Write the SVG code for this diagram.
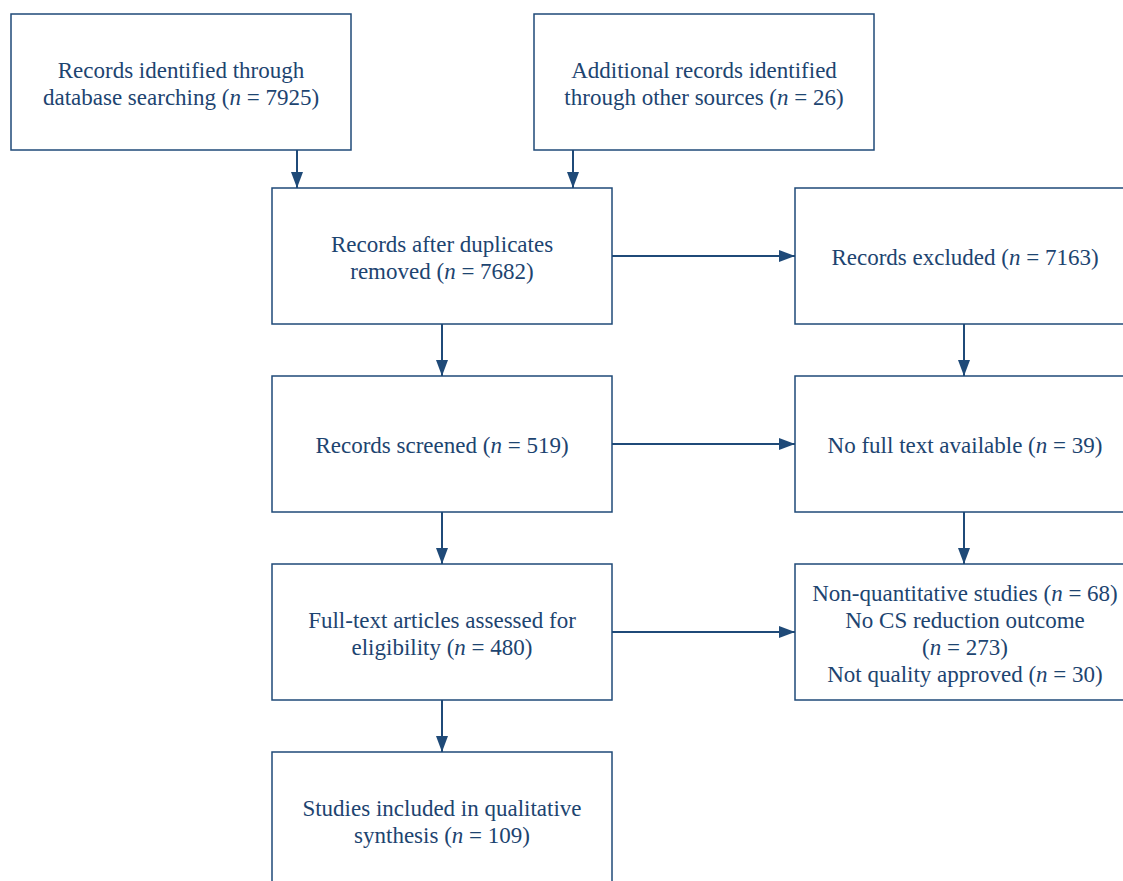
<svg xmlns="http://www.w3.org/2000/svg" width="1123" height="881" viewBox="0 0 1123 881">
<style>
.box{fill:#fff;stroke:#1f4a78;stroke-width:1.5}
text{font-family:"Liberation Serif",serif;font-size:23px;fill:#1d4470;text-anchor:middle}
.c{stroke:#1f4a78;stroke-width:2;fill:none}
</style>
<defs>
<marker id="ah" markerWidth="16" markerHeight="12" refX="16" refY="6" orient="auto" markerUnits="userSpaceOnUse" viewBox="0 0 16 12">
<path d="M0,0 L16,6 L0,12 z" fill="#1f4a78"/>
</marker>
</defs>
<rect width="1123" height="881" fill="#fff"/>
<g id="connectors">
<line class="c" x1="297" y1="150" x2="297" y2="188" marker-end="url(#ah)"/>
<line class="c" x1="573" y1="150" x2="573" y2="188" marker-end="url(#ah)"/>
<line class="c" x1="442" y1="324" x2="442" y2="376" marker-end="url(#ah)"/>
<line class="c" x1="442" y1="512" x2="442" y2="564" marker-end="url(#ah)"/>
<line class="c" x1="442" y1="700" x2="442" y2="752" marker-end="url(#ah)"/>
<line class="c" x1="964" y1="324" x2="964" y2="376" marker-end="url(#ah)"/>
<line class="c" x1="964" y1="512" x2="964" y2="564" marker-end="url(#ah)"/>
<line class="c" x1="612" y1="256" x2="795" y2="256" marker-end="url(#ah)"/>
<line class="c" x1="612" y1="444" x2="795" y2="444" marker-end="url(#ah)"/>
<line class="c" x1="612" y1="632" x2="795" y2="632" marker-end="url(#ah)"/>
</g>
<g id="n1">
<rect class="box" x="11" y="14" width="340" height="136"/>
<text x="181" y="78">Records identified through</text>
<text x="181" y="105">database searching (<tspan font-style="italic">n</tspan> = 7925)</text>
</g>
<g id="n2">
<rect class="box" x="534" y="14" width="340" height="136"/>
<text x="704" y="78">Additional records identified</text>
<text x="704" y="105">through other sources (<tspan font-style="italic">n</tspan> = 26)</text>
</g>
<g id="n3">
<rect class="box" x="272" y="188" width="340" height="136"/>
<text x="442" y="252">Records after duplicates</text>
<text x="442" y="279">removed (<tspan font-style="italic">n</tspan> = 7682)</text>
</g>
<g id="n4">
<rect class="box" x="795" y="188" width="340" height="136"/>
<text x="965" y="265">Records excluded (<tspan font-style="italic">n</tspan> = 7163)</text>
</g>
<g id="n5">
<rect class="box" x="272" y="376" width="340" height="136"/>
<text x="442" y="453">Records screened (<tspan font-style="italic">n</tspan> = 519)</text>
</g>
<g id="n6">
<rect class="box" x="795" y="376" width="340" height="136"/>
<text x="965" y="453">No full text available (<tspan font-style="italic">n</tspan> = 39)</text>
</g>
<g id="n7">
<rect class="box" x="272" y="564" width="340" height="136"/>
<text x="442" y="628">Full-text articles assessed for</text>
<text x="442" y="655">eligibility (<tspan font-style="italic">n</tspan> = 480)</text>
</g>
<g id="n8">
<rect class="box" x="795" y="564" width="340" height="136"/>
<text x="965" y="601">Non-quantitative studies (<tspan font-style="italic">n</tspan> = 68)</text>
<text x="965" y="628">No CS reduction outcome</text>
<text x="965" y="655">(<tspan font-style="italic">n</tspan> = 273)</text>
<text x="965" y="682">Not quality approved (<tspan font-style="italic">n</tspan> = 30)</text>
</g>
<g id="n9">
<rect class="box" x="272" y="752" width="340" height="136"/>
<text x="442" y="816">Studies included in qualitative</text>
<text x="442" y="843">synthesis (<tspan font-style="italic">n</tspan> = 109)</text>
</g>
</svg>
